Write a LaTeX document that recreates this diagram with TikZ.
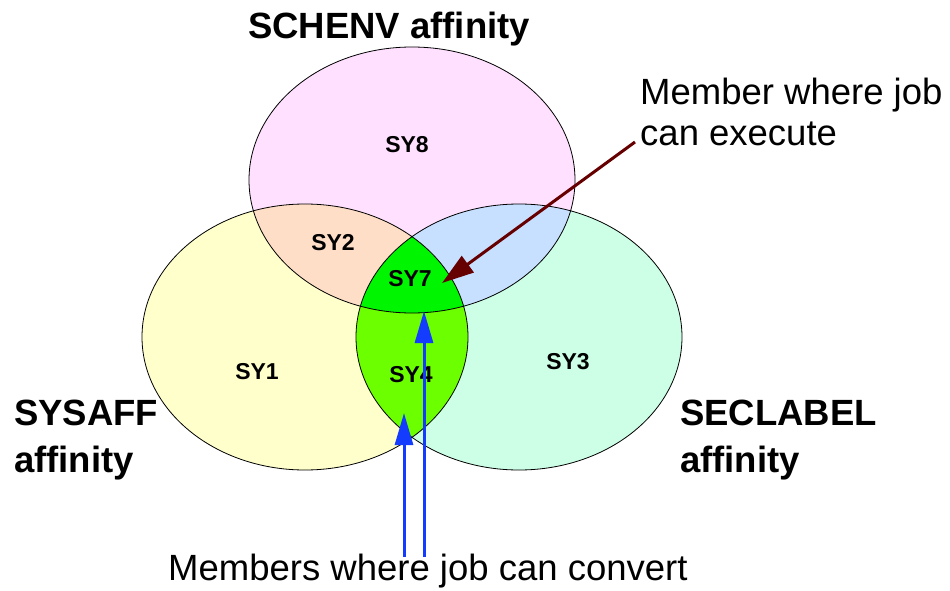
\documentclass[tikz,border=0pt]{standalone}
\usepackage{fontspec}
\setmainfont{Liberation Sans}
\usetikzlibrary{arrows.meta}

\definecolor{schenvfill}{RGB}{255,224,255}
\definecolor{sysafffill}{RGB}{255,255,204}
\definecolor{seclabfill}{RGB}{204,255,230}
\definecolor{peachfill}{RGB}{255,222,200}
\definecolor{skyfill}{RGB}{200,224,255}
\definecolor{execfill}{RGB}{0,245,0}
\definecolor{convfill}{RGB}{108,255,0}
\definecolor{execarrow}{RGB}{102,0,0}
\definecolor{convarrow}{RGB}{20,60,255}

\begin{document}
\begin{tikzpicture}[x=1pt,y=-1pt,
  ringtop/.style={insert path={(412,180) ellipse [x radius=163pt,y radius=133pt]}},
  ringleft/.style={insert path={(305,337) ellipse [x radius=163pt,y radius=133pt]}},
  ringright/.style={insert path={(519,337) ellipse [x radius=163pt,y radius=133pt]}},
  heading/.style={font=\fontsize{36.5}{47}\selectfont\bfseries, inner sep=0pt, align=left},
  note/.style={font=\fontsize{36.5}{41}\selectfont, inner sep=0pt, align=left},
  region/.style={font=\fontsize{23}{27}\selectfont\bfseries, inner sep=0pt},
  execptr/.style={draw=execarrow, line width=3pt, -{Triangle[length=32pt,width=20pt]}},
  convptr/.style={draw=convarrow, line width=3pt, -{Triangle[length=32pt,width=18pt]}},
]
\useasboundingbox (0,0) rectangle (950,591);

% base fills of the three affinity sets
\fill[schenvfill, ringtop];
\fill[sysafffill, ringleft];
\fill[seclabfill, ringright];

% pairwise overlaps
\begin{scope}
  \clip[ringtop];
  \fill[peachfill, ringleft];
  \fill[skyfill, ringright];
\end{scope}
\begin{scope}
  \clip[ringleft];
  \fill[convfill, ringright];
\end{scope}
% common to all three sets
\begin{scope}
  \clip[ringtop];
  \clip[ringleft];
  \fill[execfill, ringright];
\end{scope}

% outlines
\draw[black, line width=0.8pt, ringtop];
\draw[black, line width=0.8pt, ringleft];
\draw[black, line width=0.8pt, ringright];

% region labels
\node[region] (sy8) at (407,145) {SY8};
\node[region] (sy2) at (333,243) {SY2};
\node[region] (sy7) at (410,279) {SY7};
\node[region] (sy4) at (411,375) {SY4};
\node[region] (sy1) at (257,372) {SY1};
\node[region] (sy3) at (568,362) {SY3};

% set titles (base anchor sits on the last line)
\node[heading, anchor=base] (schenv) at (389,39) {SCHENV affinity};
\node[heading, anchor=base west] (sysaff) at (14,472) {SYSAFF\\affinity};
\node[heading, anchor=base west] (seclabel) at (680,472) {SECLABEL\\affinity};

% annotations
\node[note, anchor=base west] (execnote) at (640,146) {Member where job\\can execute};
\node[note, anchor=base west] (convnote) at (168,580) {Members where job can convert};

% pointers
\coordinate (exectail) at (635,142);
\coordinate (exectip) at (442,283);
\draw[execptr] (exectail) -- (exectip);

\coordinate (convtailA) at (404,557);
\coordinate (convtipA) at (404,413);
\coordinate (convtailB) at (424,557);
\coordinate (convtipB) at (424,311);
\draw[convptr] (convtailA) -- (convtipA);
\draw[convptr] (convtailB) -- (convtipB);
\end{tikzpicture}
\end{document}
